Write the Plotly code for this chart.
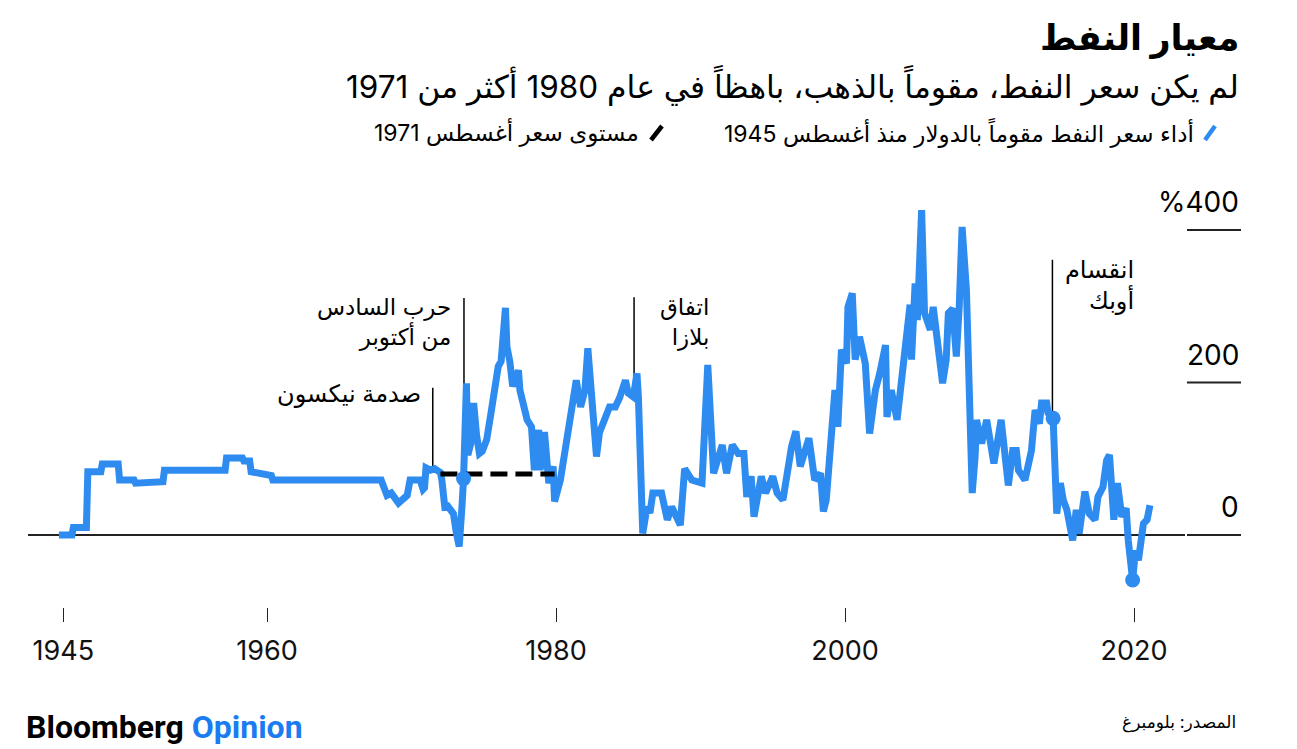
import plotly.graph_objects as go

# ---------------- data ----------------
years = [1945.6, 1946.5, 1946.6, 1947.5, 1947.6, 1948.5, 1948.6, 1949.7, 1949.8, 1950.8,
         1950.9, 1951.3, 1951.4, 1952.8, 1952.9, 1957.1, 1957.2, 1958.3, 1958.4, 1958.8,
         1958.9, 1960.0, 1960.3, 1960.4, 1967.9, 1968.3, 1968.6, 1969.1, 1969.5, 1969.7,
         1969.9, 1970.6, 1970.8, 1970.9, 1971.0, 1971.3, 1971.6, 1972.0, 1972.1, 1972.3,
         1972.5, 1972.7, 1972.9, 1973.1, 1973.3, 1973.5, 1973.6, 1973.8, 1973.9, 1974.1,
         1974.3, 1974.5, 1974.7, 1974.9, 1975.2, 1975.5, 1975.8, 1976.0, 1976.2, 1976.5,
         1976.6, 1976.8, 1977.0, 1977.4, 1977.5, 1978.0, 1978.3, 1978.5, 1978.8, 1978.9,
         1979.2, 1979.5, 1979.8, 1979.9, 1980.3, 1980.7, 1981.2, 1981.4, 1981.7, 1982.0,
         1982.2, 1982.35, 1982.6, 1982.8, 1983.0, 1983.4, 1983.7, 1984.1, 1984.4, 1984.8,
         1985.0, 1985.35, 1985.6, 1985.7, 1985.8, 1985.9, 1986.0, 1986.3, 1986.5, 1986.7,
         1987.0, 1987.3, 1987.7, 1988.0, 1988.6, 1988.9, 1989.4, 1990.1, 1990.5, 1990.8,
         1990.9, 1991.5, 1991.8, 1992.2, 1992.6, 1993.0, 1993.2, 1993.5, 1993.7, 1994.2,
         1994.5, 1995.0, 1995.3, 1995.7, 1996.0, 1996.3, 1996.6, 1996.9, 1997.5, 1997.9,
         1998.3, 1998.5, 1998.7, 1998.9, 1999.2, 1999.3, 1999.5, 1999.75, 2000.1, 2000.2,
         2000.5, 2000.7, 2001.0, 2001.4, 2001.7, 2002.1, 2002.4, 2002.8, 2002.9, 2003.2,
         2003.6, 2003.9, 2004.3, 2004.5, 2004.6, 2004.85, 2005.0, 2005.3, 2005.5, 2005.9,
         2006.1, 2006.5, 2006.75, 2007.0, 2007.15, 2007.45, 2007.7, 2007.9, 2008.1, 2008.4,
         2008.65, 2008.8, 2009.0, 2009.1, 2009.45, 2009.8, 2010.3, 2010.8, 2011.3, 2011.6,
         2011.85, 2012.0, 2012.45, 2012.9, 2013.15, 2013.45, 2013.6, 2013.95, 2014.05, 2014.4,
         2014.65, 2014.9, 2015.1, 2015.35, 2015.75, 2016.0, 2016.2, 2016.6, 2016.9, 2017.3,
         2017.5, 2017.85, 2018.1, 2018.3, 2018.6, 2018.85, 2019.15, 2019.45, 2019.6, 2019.9,
         2020.1, 2020.3, 2020.65, 2020.9, 2021.1]
values = [0, 0, 10, 10, 83, 83, 93, 93, 72, 72,
          68, 68, 70, 70, 85, 85, 101, 101, 97, 97,
          83, 80, 78, 72, 72, 52, 55, 42, 48, 52,
          72, 72, 60, 62, 88, 85, 87, 82, 72, 37,
          38, 33, 28, 3, -15, 40, 74, 199, 105, 120,
          173, 131, 107, 110, 125, 160, 203, 221, 228, 298,
          247, 228, 195, 216, 190, 151, 142, 85, 138, 85,
          135, 68, 90, 44, 72, 116, 181, 203, 168, 190,
          245, 208, 168, 103, 134, 151, 168, 168, 180, 203,
          186, 181, 212, 181, 125, 50, 2, 37, 29, 55,
          55, 55, 20, 37, 13, 87, 72, 68, 223, 125,
          81, 118, 81, 118, 107, 107, 50, 77, 24, 77,
          55, 77, 55, 46, 81, 116, 136, 90, 127, 72,
          81, 31, 46, 103, 186, 190, 142, 243, 225, 299,
          317, 230, 260, 225, 133, 190, 212, 249, 155, 190,
          151, 208, 278, 302, 230, 330, 282, 426, 291, 269,
          299, 243, 199, 230, 291, 297, 234, 299, 404, 321,
          146, 55, 103, 151, 120, 151, 94, 151, 65, 111,
          111, 85, 72, 111, 164, 146, 173, 173, 160, 153,
          28, 68, 46, 33, -7, 33, 2, 57, 28, 20,
          50, 63, 98, 105, 20, 68, 24, 35, -7, -59,
          -20, -33, 15, 20, 39]

# August 1971 price level line
level_years = [1972.0, 1979.9]
level_values = [80, 80]

# highlighted points
dot_years = [1973.6, 2014.4, 2019.9]
dot_values = [74, 153, -59]

# events
event_years = [1971.47, 1973.63, 1985.4, 2014.35]
event_line_bottom = [88, 75, 193, 153]
event_line_top = [193, 311, 312, 361]
event_labels = ["صدمة نيكسون", "حرب السادس<br>من أكتوبر", "اتفاق<br>بلازا", "انقسام<br>أوبك"]

x_tickvals = [1945.9, 1960, 1980, 2000, 2020]
x_ticktext = ["1945", "1960", "1980", "2000", "2020"]
y_gridvals = [0, 200, 400]
y_gridtext = ["0", "200", "%400"]

title = "معيار النفط"
subtitle = "لم يكن سعر النفط، مقوماً بالذهب، باهظاً في عام 1980 أكثر من 1971"
legend_main = "أداء سعر النفط مقوماً بالدولار منذ أغسطس 1945"
legend_level = "مستوى سعر أغسطس 1971"
source = "المصدر: بلومبرغ"

# ---------------- layout helpers ----------------
# the page body has an 8px margin, so the figure is 8px smaller and offset
W, H = 1289, 741
L, R, T, B = 20, 56, 182, 142
PW, PH = W - L - R, H - T - B
OFF = 8


def px(xp):
    return (xp - OFF - L) / PW


def py(yp):
    return (H - B - (yp - OFF)) / PH


BLUE = "#2e8cf0"
FONT_AR = "Inter, DejaVu Sans, sans-serif"
FONT_NUM = "Inter, Liberation Sans, sans-serif"

fig = go.Figure()
fig.add_trace(go.Scatter(x=years, y=values, mode="lines",
                         line=dict(color=BLUE, width=7), hoverinfo="skip"))
fig.add_trace(go.Scatter(x=level_years, y=level_values, mode="lines",
                         line=dict(color="black", width=5, dash="17px,8px"), hoverinfo="skip"))
fig.add_trace(go.Scatter(x=dot_years, y=dot_values, mode="markers",
                         marker=dict(color=BLUE, size=15), hoverinfo="skip"))

shapes = []
shapes.append(dict(type="line", xref="paper", yref="y", x0=0, x1=px(1185), y0=0, y1=0,
                   line=dict(color="#222", width=2), layer="below"))
for v in y_gridvals:
    shapes.append(dict(type="line", xref="paper", yref="y", x0=px(1187), x1=px(1241), y0=v, y1=v,
                       line=dict(color="#222", width=2)))
for ex, yb, yt in zip(event_years, event_line_bottom, event_line_top):
    shapes.append(dict(type="line", xref="x", yref="y", x0=ex, x1=ex, y0=yb, y1=yt,
                       line=dict(color="black", width=1.5), layer="below"))
shapes.append(dict(type="line", xref="paper", yref="paper", x0=px(1205), x1=px(1215),
                   y0=py(140), y1=py(126), line=dict(color=BLUE, width=4.5)))
shapes.append(dict(type="line", xref="paper", yref="paper", x0=px(651), x1=px(662),
                   y0=py(140), y1=py(126), line=dict(color="black", width=4.5)))

annotations = []
annotations.append(dict(text="<b>" + title + "</b>", xref="paper", yref="paper", x=px(1241), y=py(37),
                        xanchor="right", yanchor="middle", showarrow=False,
                        font=dict(family=FONT_AR, size=35, color="black")))
annotations.append(dict(text=subtitle, xref="paper", yref="paper", x=px(1241), y=py(85),
                        xanchor="right", yanchor="middle", showarrow=False,
                        font=dict(family=FONT_AR, size=31.5, color="black")))
annotations.append(dict(text=legend_main, xref="paper", yref="paper", x=px(1196), y=py(133),
                        xanchor="right", yanchor="middle", showarrow=False,
                        font=dict(family=FONT_AR, size=23, color="black")))
annotations.append(dict(text=legend_level, xref="paper", yref="paper", x=px(641), y=py(133),
                        xanchor="right", yanchor="middle", showarrow=False,
                        font=dict(family=FONT_AR, size=23, color="black")))
for v, t in zip(y_gridvals, y_gridtext):
    annotations.append(dict(text=t, xref="paper", yref="y", x=px(1241), y=v, yshift=28,
                            xanchor="right", yanchor="middle", showarrow=False,
                            font=dict(family=FONT_NUM, size=28, color="black")))
ev_anchor = ["right", "right", "left", "left"]
ev_shift = [-10, -11, 24, 11]
ev_y = [186, 279, 279, 328]
ev_size = [24, 23, 23, 24]
for ex, lab, anc, sh, yy, fs in zip(event_years, event_labels, ev_anchor, ev_shift, ev_y, ev_size):
    annotations.append(dict(text=lab, xref="x", yref="y", x=ex, y=yy, xshift=sh,
                            xanchor=anc, yanchor="middle", align="right", showarrow=False,
                            font=dict(family=FONT_AR, size=fs, color="black")))
annotations.append(dict(text="<b>Bloomberg <span style='color:#1a7cf0'>Opinion</span></b>",
                        xref="paper", yref="paper", x=px(24), y=py(727),
                        xanchor="left", yanchor="middle", showarrow=False,
                        font=dict(family="Liberation Sans Narrow, Roboto, sans-serif", size=32, color="black")))
annotations.append(dict(text=source, xref="paper", yref="paper", x=px(1238), y=py(722),
                        xanchor="right", yanchor="middle", showarrow=False,
                        font=dict(family=FONT_AR, size=17, color="black")))

fig.update_layout(
    width=W, height=H,
    margin=dict(l=L, r=R, t=T, b=B),
    paper_bgcolor="white", plot_bgcolor="white",
    showlegend=False,
    shapes=shapes, annotations=annotations,
    xaxis=dict(range=[1943.46, 2027.4], showgrid=False, zeroline=False, showline=False,
               tickmode="array", tickvals=x_tickvals, ticktext=x_ticktext,
               ticks="outside", ticklen=14, tickwidth=1, tickcolor="#222",
               ticklabelstandoff=6,
               tickfont=dict(family=FONT_NUM, size=27, color="#111"),
               fixedrange=True),
    yaxis=dict(range=[-94.4, 452.5], showgrid=False, zeroline=False, showline=False,
               showticklabels=False, ticks="", fixedrange=True),
)

fig.write_html("out.html", config={"displayModeBar": False})
